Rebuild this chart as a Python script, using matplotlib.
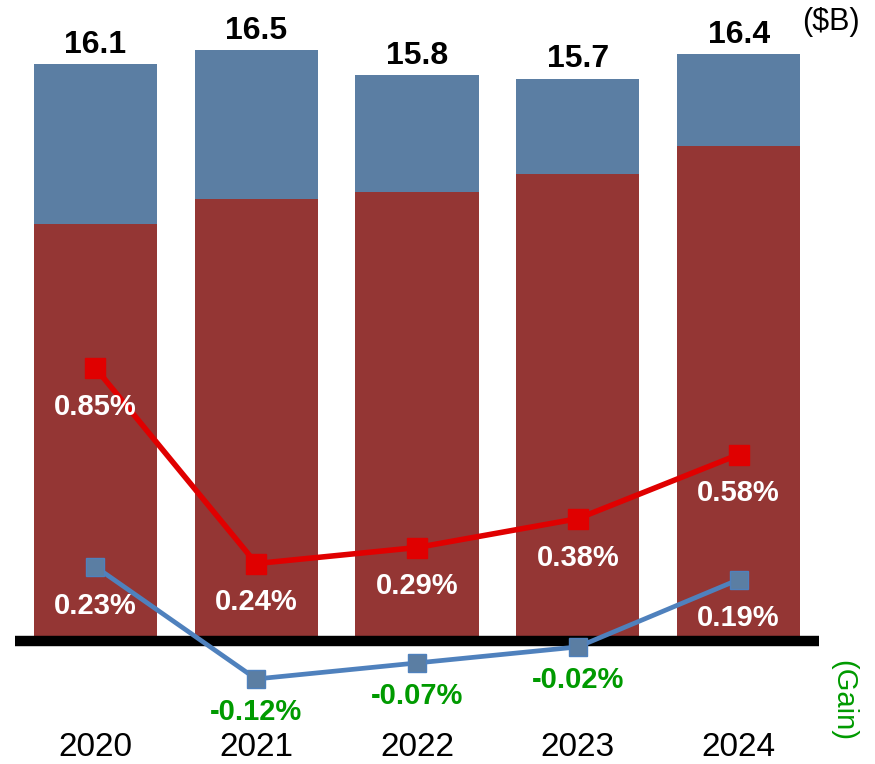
import numpy as np
import matplotlib
matplotlib.use('Agg')
import matplotlib.pyplot as plt

plt.rcParams['font.family'] = ['Liberation Sans', 'DejaVu Sans']

years = ['2020', '2021', '2022', '2023', '2024']
totals = [16.1, 16.5, 15.8, 15.7, 16.4]
base_part = [11.6, 12.3, 12.5, 13.0, 13.8]
red_rate = [0.85, 0.24, 0.29, 0.38, 0.58]
blue_rate = [0.23, -0.12, -0.07, -0.02, 0.19]

RED_BAR = '#943634'
BLUE_BAR = '#5b7ea3'
RED_LINE = '#e00000'
BLUE_LINE = '#4f81bd'
GREEN = '#009a00'

W, H = 875, 764
fig = plt.figure(figsize=(W / 100, H / 100), dpi=100)
ax = fig.add_axes([15 / W, 64 / H, 804 / W, 680 / H])

x = np.arange(len(years))
upper_part = np.array(totals) - np.array(base_part)
ax.bar(x, base_part, width=0.765, color=RED_BAR)
ax.bar(x, upper_part, bottom=base_part, width=0.765, color=BLUE_BAR)
ax.axhline(-0.14, color='black', lw=7.5)

for xi, t in zip(x, totals):
    ax.annotate('%.1f' % t, (xi, t), xytext=(0, 3), textcoords='offset points',
                ha='center', va='bottom', fontsize=23, fontweight='bold')

ax.set_xlim(-0.5, 4.5)
ax.set_ylim(-1.803, 17.35)
ax.set_xticks(x, years, fontsize=24)
ax.tick_params(axis='x', length=0, pad=23)
ax.set_yticks([])
for s in ax.spines.values():
    s.set_visible(False)

# rates on a second scale
ax2 = ax.twinx()
ax2.set_ylim(-0.1856, 1.9355)
ax2.set_yticks([])
for s in ax2.spines.values():
    s.set_visible(False)

ax2.plot(x, blue_rate, color=BLUE_LINE, lw=3.4, marker='s', markersize=13,
         markerfacecolor='#5b7ea3', markeredgecolor=BLUE_LINE, markeredgewidth=1)
ax2.plot(x, red_rate, color=RED_LINE, lw=4, marker='s', markersize=14,
         markerfacecolor=RED_LINE, markeredgecolor=RED_LINE)

for xi, v in zip(x, red_rate):
    ax2.annotate('%.2f%%' % v, (xi, v), xytext=(0, -28), textcoords='offset points',
                 ha='center', va='center', fontsize=21, fontweight='bold', color='white')
for xi, v in zip(x, blue_rate):
    dy = -28 if v >= 0 else -24
    ax2.annotate('%.2f%%' % v, (xi, v), xytext=(0, dy), textcoords='offset points',
                 ha='center', va='center', fontsize=21, fontweight='bold',
                 color='white' if v >= 0 else GREEN)

fig.text(831 / W, 1 - 22 / H, '($B)', ha='center', va='center', fontsize=22)
fig.text(843 / W, 1 - 700 / H, '(Gain)', ha='center', va='center', fontsize=21,
         color=GREEN, rotation=270)

fig.savefig('out.png', dpi=100)
